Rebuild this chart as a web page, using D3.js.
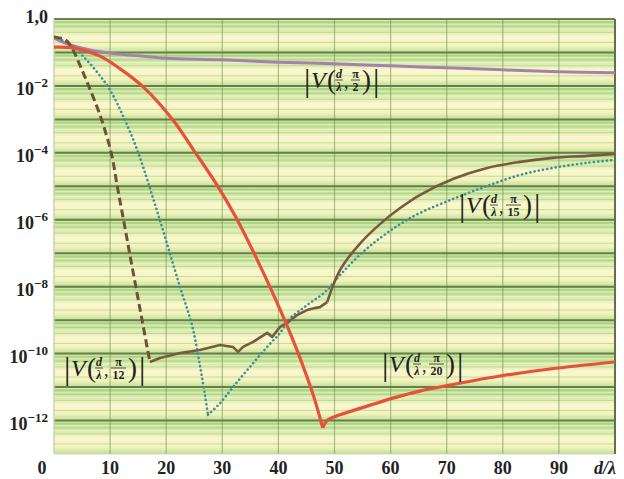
<!DOCTYPE html>
<html><head><meta charset="utf-8">
<script src="https://cdn.jsdelivr.net/npm/d3@7"></script>
<style>
body{margin:0;background:#fff;}
svg{display:block;}
svg text{font-family:'Liberation Serif','Times New Roman','DejaVu Serif',serif;}
</style></head>
<body><svg id="chart" width="624" height="479"></svg>
<script>
// x ticks (d/λ) and decade ticks of |V|
const xTicks = [0,10,20,30,40,50,60,70,80,90];
const yExponents = [0,-2,-4,-6,-8,-10,-12];

// |V(d/λ, π/2)|  – log10 values
const halfX   = [0, 2, 5, 10, 15, 20, 30, 40, 50, 60, 70, 80, 90, 100];
const halfLog = [-0.57,-0.72,-0.87,-1.02,-1.10,-1.17,-1.22,-1.29,-1.34,-1.40,-1.46,-1.52,-1.58,-1.61];

// |V(d/λ, π/12)| – falling branch (dashed), noisy floor and smooth rise (solid)
const p12DownX   = [0, 2.1, 3.2, 4.6, 6.1, 8.2, 10.2, 11.3, 12.4, 13.5, 14.6, 15.7, 16.7, 17.1];
const p12DownLog = [-0.54,-0.63,-0.87,-1.37,-1.97,-2.87,-4.0,-5.02,-6.01,-7.02,-8.01,-9.0,-9.9,-10.25];
const p12FloorX   = [17.1, 18.9, 22.5, 26.0, 29.6, 31.9, 32.8, 33.7, 35.5, 38.0, 38.9, 40.3, 41.5, 43.3, 45.1, 46.5, 47.4, 48.7];
const p12FloorLog = [-10.25,-10.13,-9.98,-9.89,-9.74,-9.80,-9.95,-9.80,-9.65,-9.38,-9.50,-9.20,-9.09,-8.85,-8.70,-8.64,-8.61,-8.46];
const p12RiseX   = [48.7, 51.0, 54.5, 58.1, 61.7, 65.2, 71.1, 77.2, 83.1, 88.9, 95.0, 100];
const p12RiseLog = [-8.46,-7.50,-6.72,-6.13,-5.65,-5.26,-4.78,-4.45,-4.27,-4.15,-4.09,-4.03];

// |V(d/λ, π/15)| (dotted) – falling and rising branches
const p15DownX   = [0, 2.85, 5.17, 7.66, 9.98, 12.48, 14.97, 18.54, 22.46, 24.6, 26.0, 26.9, 27.45];
const p15DownLog = [-0.54,-0.75,-1.11,-1.58,-2.12,-2.96,-3.98,-5.83,-8.01,-9.15,-10.34,-11.24,-11.83];
const p15UpX   = [27.45, 29.6, 31.9, 34.9, 38.0, 40.3, 42.1, 43.9, 45.6, 48.3, 51.0, 54.5, 58.1, 61.7, 65.2, 71.1, 77.2, 83.1, 88.9, 95.0, 100];
const p15UpLog = [-11.83,-11.48,-11.0,-10.4,-9.80,-9.38,-8.94,-8.70,-8.49,-8.16,-7.65,-7.05,-6.55,-6.13,-5.80,-5.38,-4.99,-4.66,-4.45,-4.30,-4.21];

// |V(d/λ, π/20)| – falling and rising branches
const p20DownX   = [0, 3.7, 8.2, 11.8, 15.9, 21.2, 25.1, 28.7, 32.3, 35.8, 39.4, 41.5, 43.3, 45.1, 46.5, 47.9];
const p20DownLog = [-0.84,-0.87,-1.11,-1.49,-2.03,-3.02,-3.97,-4.87,-5.89,-7.05,-8.34,-9.15,-9.89,-10.70,-11.39,-12.22];
const p20UpX   = [47.9, 48.8, 51.0, 55.8, 60.4, 65.2, 70.6, 79.5, 88.4, 100];
const p20UpLog = [-12.22,-11.98,-11.83,-11.57,-11.33,-11.12,-10.94,-10.67,-10.46,-10.25];

const svg = d3.select('#chart');
const L = 54, R = 615, T = 19, B = 454;
const x = d3.scaleLinear().domain([0,100]).range([L,R]);
const y = d3.scaleLog().domain([1e-13,1]).range([B,T]);

// background bands: one gradient per decade
const defs = svg.append('defs');
const grad = defs.append('linearGradient').attr('id','band').attr('x1',0).attr('y1',0).attr('x2',0).attr('y2',1);
[[0,'#a7d37c'],[0.25,'#cfe7a6'],[0.55,'#fbf7cc'],[0.8,'#f3f3c0'],[1,'#bfe095']].forEach(([o,c])=>
  grad.append('stop').attr('offset',o).attr('stop-color',c));
const clip = defs.append('clipPath').attr('id','plotclip');
clip.append('rect').attr('x',L).attr('y',T).attr('width',R-L).attr('height',B-T);

const bg = svg.append('g');
const decades = d3.range(0,13);
bg.selectAll('rect.band').data(decades).join('rect')
  .attr('x',L).attr('width',R-L)
  .attr('y',d=>y(Math.pow(10,-d)))
  .attr('height',d=>y(Math.pow(10,-d-1))-y(Math.pow(10,-d)))
  .attr('fill','url(#band)');

// minor log lines
const minors = [];
decades.forEach(d=>{ for(let k=2;k<=9;k++) minors.push(k*Math.pow(10,-d-1)); });
bg.selectAll('line.minor').data(minors).join('line')
  .attr('x1',L).attr('x2',R).attr('y1',v=>y(v)).attr('y2',v=>y(v))
  .attr('stroke',(v,i)=> i%2 ? '#fffbe0' : '#9cc872')
  .attr('stroke-opacity',0.55).attr('stroke-width',1);

// vertical grid
bg.selectAll('line.vx').data(d3.range(10,100,10)).join('line')
  .attr('x1',d=>x(d)).attr('x2',d=>x(d)).attr('y1',T).attr('y2',B)
  .attr('stroke','#6f8c52').attr('stroke-opacity',0.55).attr('stroke-width',1.2);

// decade lines
bg.selectAll('line.dec').data(d3.range(0,14)).join('line')
  .attr('x1',L).attr('x2',R)
  .attr('y1',d=>y(Math.pow(10,-d))).attr('y2',d=>y(Math.pow(10,-d)))
  .attr('stroke',d=> d===13 ? '#cfd8b8' : '#5d7444')
  .attr('stroke-width',d=> d===13 ? 1 : 2).attr('stroke-opacity',0.9);

// frame
svg.append('line').attr('x1',R).attr('x2',R).attr('y1',T).attr('y2',B).attr('stroke','#5d7444').attr('stroke-width',2);
svg.append('line').attr('x1',L).attr('x2',L).attr('y1',T).attr('y2',B).attr('stroke','#c9d3b5').attr('stroke-width',1.5);

// curves
const plot = svg.append('g').attr('clip-path','url(#plotclip)');
const mk = (xs,ls)=> xs.map((v,i)=>[v, Math.pow(10, ls[i])]);
const lineSmooth = d3.line().x(d=>x(d[0])).y(d=>y(d[1])).curve(d3.curveCatmullRom.alpha(0.5));
const lineStraight = d3.line().x(d=>x(d[0])).y(d=>y(d[1]));

plot.append('path').datum(mk(halfX,halfLog)).attr('d',lineSmooth)
  .attr('fill','none').attr('stroke','#a582ad').attr('stroke-width',3);

[[p15DownX,p15DownLog],[p15UpX,p15UpLog]].forEach(([xs,ls])=>
  plot.append('path').datum(mk(xs,ls)).attr('d',lineSmooth)
    .attr('fill','none').attr('stroke','#3f8f96').attr('stroke-width',2.6)
    .attr('stroke-dasharray','0.1,4.2').attr('stroke-linecap','round'));

plot.append('path').datum(mk(p12DownX,p12DownLog)).attr('d',lineSmooth)
  .attr('fill','none').attr('stroke','#6e5236').attr('stroke-width',3)
  .attr('stroke-dasharray','8,4');
plot.append('path').datum(mk(p12FloorX,p12FloorLog)).attr('d',lineStraight)
  .attr('fill','none').attr('stroke','#7a5a3e').attr('stroke-width',2.6).attr('stroke-linejoin','round');
plot.append('path').datum(mk(p12RiseX,p12RiseLog)).attr('d',lineSmooth)
  .attr('fill','none').attr('stroke','#7a5a3e').attr('stroke-width',2.6).attr('stroke-linejoin','round');

[[p20DownX,p20DownLog],[p20UpX,p20UpLog]].forEach(([xs,ls])=>
  plot.append('path').datum(mk(xs,ls)).attr('d',lineSmooth)
    .attr('fill','none').attr('stroke','#e8503a').attr('stroke-width',3.2).attr('stroke-linejoin','round'));

// axis tick labels
const xg = svg.append('g').attr('font-weight','bold').attr('font-size',18).attr('fill','#222');
xg.selectAll('text').data(xTicks).join('text')
  .attr('x',d=> d===0 ? x(d)-12 : x(d)).attr('y',474).attr('text-anchor','middle').text(d=>d);
xg.append('text').attr('x',605).attr('y',474).attr('text-anchor','middle').attr('font-style','italic').text('d/λ');

const yg = svg.append('g').attr('font-weight','bold').attr('fill','#222');
yExponents.forEach(e=>{
  const t = yg.append('text').attr('y', y(Math.pow(10,e)) + (e===0 ? 4 : 9)).attr('text-anchor','end').attr('x',48).attr('font-size',18);
  if(e===0){ t.text('1,0'); }
  else {
    t.append('tspan').text('10');
    t.append('tspan').attr('font-size',13).attr('dy',-8).text('−'+(-e));
  }
});

// curve labels |V(d/λ, π/n)|
function curveLabel(x0, yc, denom){
  const g = svg.append('g').attr('transform',`translate(${x0},${yc})`).attr('fill','#222');
  g.append('text').attr('x',0).attr('y',11).attr('font-size',32).text('|');
  g.append('text').attr('x',7).attr('y',8).attr('font-size',24).attr('font-style','italic').text('V');
  g.append('text').attr('x',23).attr('y',9).attr('font-size',27).text('(');
  g.append('text').attr('x',35).attr('y',-2).attr('font-size',12).attr('font-style','italic').attr('font-weight','bold').attr('text-anchor','middle').text('d');
  g.append('line').attr('x1',31).attr('x2',39).attr('y1',0).attr('y2',0).attr('stroke','#222').attr('stroke-width',0.8);
  g.append('text').attr('x',35).attr('y',11).attr('font-size',12).attr('font-style','italic').attr('font-weight','bold').attr('text-anchor','middle').text('λ');
  g.append('text').attr('x',40).attr('y',8).attr('font-size',18).text(',');
  const fw = denom.length>1 ? 13 : 7, fc = 46 + fw/2 + 2;
  g.append('text').attr('x',fc).attr('y',-2).attr('font-size',12).attr('font-weight','bold').attr('text-anchor','middle').text('π');
  g.append('line').attr('x1',fc-fw/2-1).attr('x2',fc+fw/2+1).attr('y1',0).attr('y2',0).attr('stroke','#222').attr('stroke-width',0.8);
  g.append('text').attr('x',fc).attr('y',11).attr('font-size',12).attr('font-weight','bold').attr('text-anchor','middle').text(denom);
  const rx = fc + fw/2 + 3;
  g.append('text').attr('x',rx).attr('y',9).attr('font-size',27).text(')');
  g.append('text').attr('x',rx+11).attr('y',11).attr('font-size',32).text('|');
}
curveLabel(304, 80, '2');
curveLabel(459, 205, '15');
curveLabel(64, 368, '12');
curveLabel(382, 364, '20');
</script></body></html>
